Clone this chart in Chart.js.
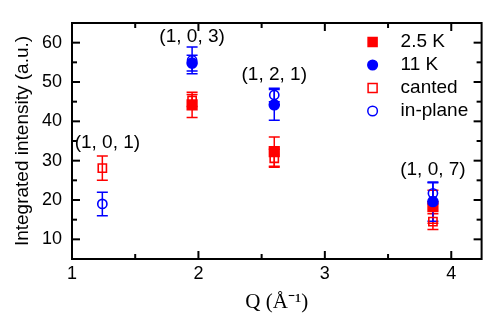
<!DOCTYPE html>
<html>
<head>
<meta charset="utf-8">
<script src="https://cdn.jsdelivr.net/npm/chart.js@4"></script>
<style>
  html, body { margin: 0; padding: 0; background: #fff; }
  #wrap { width: 490px; height: 319px; }
</style>
</head>
<body>
<div id="wrap"><canvas id="myChart"></canvas></div>
<script>
// ----------- Data ----------- //
const Q = [1.24, 1.95, 2.60, 3.855];

const lowT      = [null, 44.2, 32.3, 18.3];   // 2.5 K
const lowTErr   = [null, 3.2, 3.7, 4.2];
const highT     = [null, 54.8, 44.2, 19.6];   // 11 K
const highTErr  = [null, 2.0, 3.9, 5.0];
const canted    = [28.1, 45.3, 30.6, 14.5];
const cantedErr = [3.1, 1.5, 2.3, 2.0];
const inPlane   = [19.0, 55.5, 46.7, 21.7];
const inPlaneErr = [3.0, 3.4, 1.7, 2.7];

const peakLabels = ['(1, 0, 1)', '(1, 0, 3)', '(1, 2, 1)', '(1, 0, 7)'];
const peakLabelQ = [1.28, 1.95, 2.60, 3.855];
const peakLabelY = [34.6, 61.5, 51.8, 27.6];

const RED = '#ff0000';
const BLUE = '#0000ff';
const SANS = 'Arial, "Liberation Sans", sans-serif';

const toPoints = (ys) => Q.map((q, i) => ({ x: q, y: ys[i] })).filter(p => p.y !== null);
const isWhole = v => Math.abs(v - Math.round(v)) < 1e-6;

// ----------- Plugins ----------- //
const errorBars = {
    id: 'errorBars',
    beforeDatasetsDraw(chart) {
        const { ctx, scales: { x, y } } = chart;
        ctx.save();
        ctx.lineWidth = 1.5;
        [0, 2, 1, 3].forEach(di => {
            const ds = chart.data.datasets[di];
            ctx.strokeStyle = ds.borderColor;
            ds.data.forEach(p => {
                const e = ds.errors[Q.indexOf(p.x)];
                const px = x.getPixelForValue(p.x);
                const top = y.getPixelForValue(p.y + e);
                const bot = y.getPixelForValue(p.y - e);
                ctx.beginPath();
                ctx.moveTo(px, top); ctx.lineTo(px, bot);
                ctx.moveTo(px - 5.5, top); ctx.lineTo(px + 5.5, top);
                ctx.moveTo(px - 5.5, bot); ctx.lineTo(px + 5.5, bot);
                ctx.stroke();
            });
        });
        ctx.restore();
    }
};

const frame = {
    id: 'frame',
    afterDraw(chart) {
        const { ctx, chartArea: a, scales: { x, y } } = chart;
        const line = (x1, y1, x2, y2) => { ctx.beginPath(); ctx.moveTo(x1, y1); ctx.lineTo(x2, y2); ctx.stroke(); };
        ctx.save();
        ctx.strokeStyle = '#000';
        ctx.lineWidth = 2;
        ctx.strokeRect(a.left, a.top, a.right - a.left, a.bottom - a.top);
        x.ticks.forEach(t => {
            if (!isWhole(t.value * 2)) return;
            const px = x.getPixelForValue(t.value);
            const len = isWhole(t.value) ? 8 : 5;
            line(px, a.bottom, px, a.bottom - len);
            line(px, a.top, px, a.top + len);
        });
        y.ticks.forEach(t => {
            const py = y.getPixelForValue(t.value);
            const len = isWhole(t.value / 10) ? 8 : 5;
            line(a.left, py, a.left + len, py);
            line(a.right, py, a.right - len, py);
        });
        ctx.restore();
    }
};

const labelsAndLegend = {
    id: 'labelsAndLegend',
    afterDatasetsDraw(chart) {
        const { ctx, chartArea: a, scales: { x, y } } = chart;
        ctx.save();
        ctx.fillStyle = '#000';
        ctx.font = '19px ' + SANS;
        ctx.textAlign = 'center';
        ctx.textBaseline = 'middle';
        peakLabels.forEach((txt, i) => {
            ctx.fillText(txt, x.getPixelForValue(peakLabelQ[i]), y.getPixelForValue(peakLabelY[i]));
        });

        // legend, top right inside the frame
        const mx = a.right - 109;
        chart.data.datasets.forEach((ds, i) => {
            const py = a.top + 19 + i * 23;
            ctx.lineWidth = 1.5;
            ctx.strokeStyle = ds.borderColor;
            ctx.fillStyle = ds.backgroundColor;
            ctx.beginPath();
            if (ds.pointStyle === 'rect') ctx.rect(mx - 4.5, py - 4.5, 9, 9);
            else ctx.arc(mx, py, 4.8, 0, Math.PI * 2);
            ctx.fill();
            ctx.stroke();
            ctx.fillStyle = '#000';
            ctx.textAlign = 'left';
            ctx.fillText(ds.label, mx + 28, py);
        });
        ctx.restore();
    }
};

// ----------- Chart ----------- //
const series = (label, ys, errs, style, color, filled) => ({
    label: label,
    data: toPoints(ys),
    errors: errs,
    pointStyle: style,
    borderColor: color,
    backgroundColor: filled ? color : 'rgba(0,0,0,0)',
    pointBorderWidth: 1.6,
    pointRadius: style === 'rect' ? (filled ? 6.8 : 5.8) : (filled ? 5 : 4.6),
    showLine: false
});

const ds2 = series('2.5 K', lowT, lowTErr, 'rect', RED, true);
const ds11 = series('11 K', highT, highTErr, 'circle', BLUE, true);
const dsC = series('canted', canted, cantedErr, 'rect', RED, false);
const dsI = series('in-plane', inPlane, inPlaneErr, 'circle', BLUE, false);
ds2.order = 2; ds11.order = 1; dsC.order = 3; dsI.order = 0;

const ctx = document.getElementById('myChart');
new Chart(ctx, {
    type: 'scatter',
    data: { datasets: [ds2, ds11, dsC, dsI] },
    plugins: [errorBars, frame, labelsAndLegend],
    options: {
        responsive: true,
        maintainAspectRatio: false,
        animation: false,
        layout: { padding: { top: 23, right: 6, left: 0, bottom: 0 } },
        plugins: { legend: { display: false }, tooltip: { enabled: false } },
        scales: {
            x: {
                type: 'linear',
                min: 1, max: 4.24,
                afterFit: s => { s.height = 60; },
                border: { display: false },
                grid: { display: false, drawTicks: false },
                ticks: {
                    stepSize: 0.5, includeBounds: false, autoSkip: false, maxRotation: 0, padding: 4,
                    color: '#000', font: { family: SANS, size: 18 },
                    callback: v => isWhole(v) ? String(Math.round(v)) : ''
                },
                title: {
                    display: true, text: 'Q (\u00C5\u207B\u00B9)', color: '#000',
                    font: { family: '"Liberation Serif", "Times New Roman", serif', size: 21 },
                    padding: { top: 0, bottom: 4 }
                }
            },
            y: {
                min: 5, max: 65,
                afterFit: s => { s.width = 72; },
                border: { display: false },
                grid: { display: false, drawTicks: false },
                ticks: {
                    stepSize: 5, autoSkip: false, padding: 10,
                    color: '#000', font: { family: SANS, size: 18 },
                    callback: v => isWhole(v / 10) ? String(Math.round(v)) : ''
                },
                title: {
                    display: true, text: 'Integrated intensity (a.u.)', color: '#000',
                    font: { family: SANS, size: 19 },
                    padding: { top: 11, bottom: 0 }
                }
            }
        }
    }
});
</script>
</body>
</html>
